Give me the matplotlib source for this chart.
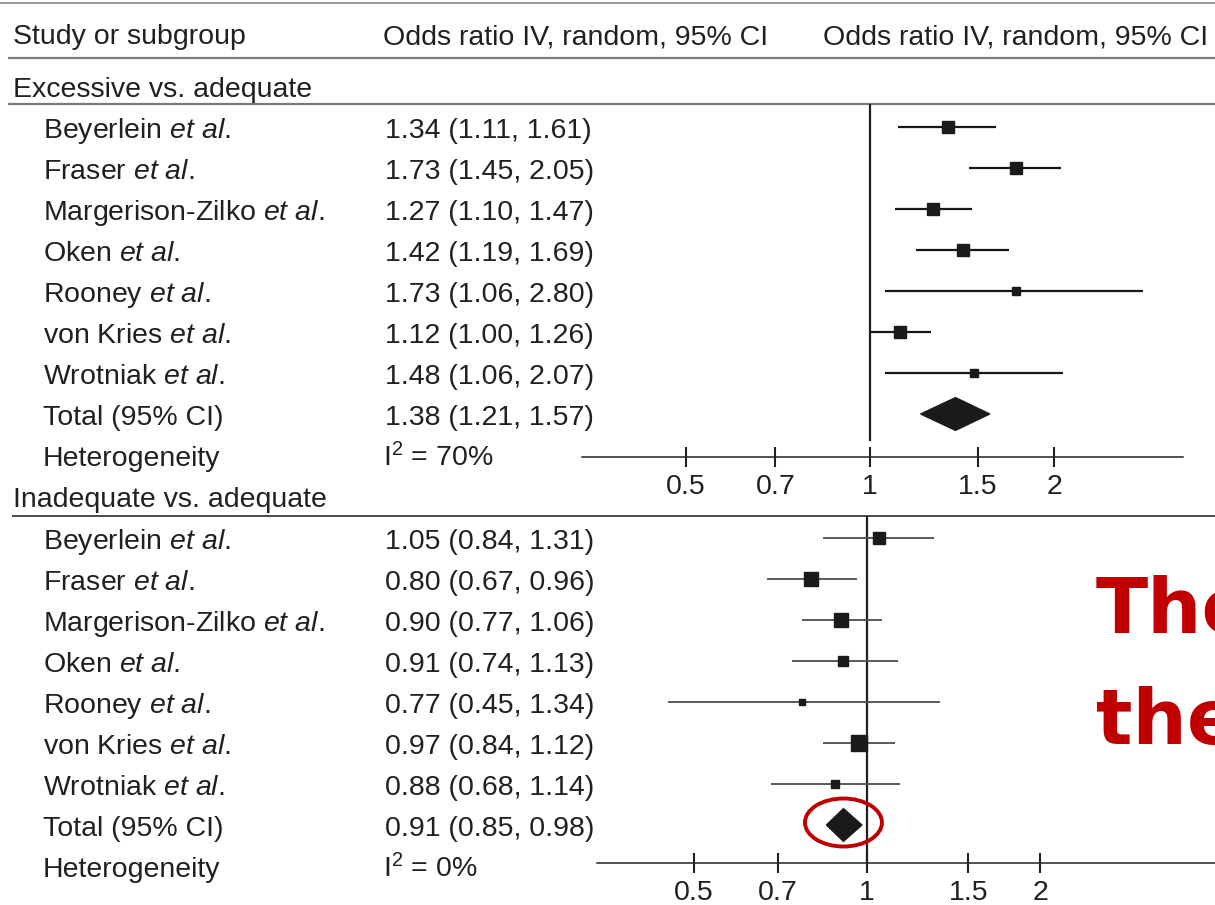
import matplotlib.pyplot as plt
import matplotlib.transforms as transforms
from matplotlib.patches import Ellipse, Polygon
from matplotlib.ticker import NullLocator
import numpy as np

plt.rcParams['font.family'] = ['Liberation Sans', 'DejaVu Sans']
plt.rcParams['mathtext.fontset'] = 'custom'
plt.rcParams['mathtext.rm'] = 'Liberation Sans'
plt.rcParams['mathtext.it'] = 'Liberation Sans:italic'

# ---- data ----
studies = ['Beyerlein', 'Fraser', 'Margerison-Zilko', 'Oken', 'Rooney', 'von Kries', 'Wrotniak']

exc_or = [1.34, 1.73, 1.27, 1.42, 1.73, 1.12, 1.48]
exc_lo = [1.11, 1.45, 1.10, 1.19, 1.06, 1.00, 1.06]
exc_hi = [1.61, 2.05, 1.47, 1.69, 2.80, 1.26, 2.07]
exc_weight = [16.6, 16.6, 18.0, 16.6, 7.7, 16.6, 7.7]   # % weight (square size)
exc_total = [1.38, 1.21, 1.57]
exc_i2 = 70

inad_or = [1.05, 0.80, 0.90, 0.91, 0.77, 0.97, 0.88]
inad_lo = [0.84, 0.67, 0.77, 0.74, 0.45, 0.84, 0.68]
inad_hi = [1.31, 0.96, 1.06, 1.13, 1.34, 1.12, 1.14]
inad_weight = [13.5, 20.3, 18.8, 12.3, 4.0, 25.0, 6.2]
inad_total = [0.91, 0.85, 0.98]
inad_i2 = 0

tick_vals = [0.5, 0.7, 1, 1.5, 2]
tick_labels = ['0.5', '0.7', '1', '1.5', '2']

# ---- layout (pixels) ----
W, H = 1215, 905
ROW = 41
FS = 20.5
INK = '#231f20'
RED = '#c00000'

fig = plt.figure(figsize=(W / 100, H / 100), dpi=100)
bg = fig.add_axes([0, 0, 1, 1])
bg.set_xlim(0, W)
bg.set_ylim(H, 0)
bg.axis('off')

# header and separators
bg.hlines(3, 0, W, color='#9a9a9a', lw=1.4)
bg.text(13, 44, 'Study or subgroup', fontsize=FS, color=INK, va='baseline')
bg.text(383, 44, 'Odds ratio IV, random, 95% CI', fontsize=FS, color=INK, va='baseline')
bg.text(823, 44, 'Odds ratio IV, random, 95% CI', fontsize=FS, color=INK, va='baseline')
bg.hlines([58, 104], 8, W, color='#7a7a7a', lw=1.6)
bg.hlines(516, 12, W, color='#4a4a4a', lw=1.4)


def table_rows(row0, ors, los, his, total, i2):
    for i, name in enumerate(studies):
        y = row0 + i * ROW + 11
        bg.text(43, y, name + r' $\mathit{et\ al}$.', fontsize=FS, color=INK, va='baseline')
        bg.text(385, y, f'{ors[i]:.2f} ({los[i]:.2f}, {his[i]:.2f})',
                fontsize=FS, color=INK, va='baseline')
    y = row0 + len(studies) * ROW + 11
    bg.text(43, y, 'Total (95% CI)', fontsize=FS, color=INK, va='baseline')
    bg.text(385, y, f'{total[0]:.2f} ({total[1]:.2f}, {total[2]:.2f})',
            fontsize=FS, color=INK, va='baseline')
    y += ROW
    bg.text(43, y, 'Heterogeneity', fontsize=FS, color=INK, va='baseline')
    bg.text(383, y, r'I$^{2}$ = ' + f'{i2}%', fontsize=FS, color=INK, va='baseline')


def forest(left, right, top, bottom, center, scale, row0, ors, los, his, weights,
           total, ci_color, ci_lw, vline_from):
    ax = fig.add_axes([left / W, 1 - bottom / H, (right - left) / W, (bottom - top) / H])
    ax.patch.set_alpha(0)
    ax.set_xscale('log')
    ax.set_xlim(np.exp((left - center) / scale), np.exp((right - center) / scale))
    ax.set_ylim((bottom - row0) / ROW, (top - row0) / ROW)

    rows = np.arange(len(ors))
    ax.hlines(rows, los, his, color=ci_color, lw=ci_lw, zorder=2)
    for i in rows:
        ax.plot(ors[i], i, marker='s', ms=3.05 * np.sqrt(weights[i]) * 0.72,
                color='#1a1a1a', mec='#1a1a1a', zorder=3)
    yt = len(ors)
    ax.add_patch(Polygon([(total[1], yt), (total[0], yt - 0.4), (total[2], yt),
                          (total[0], yt + 0.4)], closed=True, color='#1a1a1a', zorder=3))

    ax.axvline(1, ymin=vline_from, ymax=1, color=INK, lw=1.6, zorder=1)

    for s in ['top', 'left', 'right']:
        ax.spines[s].set_visible(False)
    ax.spines['bottom'].set_color(INK)
    ax.spines['bottom'].set_linewidth(1.1)
    ax.set_yticks([])
    ax.set_xticks(tick_vals, tick_labels)
    ax.xaxis.set_minor_locator(NullLocator())
    ax.tick_params(axis='x', direction='inout', length=15, width=1.5, pad=5,
                   labelsize=FS, colors=INK)
    return ax


table_rows(127, exc_or, exc_lo, exc_hi, exc_total, exc_i2)
bg.text(13, 97, 'Excessive vs. adequate', fontsize=FS, color=INK, va='baseline')
ax1 = forest(582, 1183, 104, 457, 870, 265.5, 127, exc_or, exc_lo, exc_hi, exc_weight,
             exc_total, '#161616', 1.6, (457 - 440) / (457 - 104))

table_rows(538, inad_or, inad_lo, inad_hi, inad_total, inad_i2)
bg.text(13, 507, 'Inadequate vs. adequate', fontsize=FS, color=INK, va='baseline')
ax2 = forest(597, 1215, 516, 863, 867, 249.6, 538, inad_or, inad_lo, inad_hi, inad_weight,
             inad_total, '#4d4d4d', 1.3, 0)

# red highlight around the pooled estimate of the second subgroup
trans = fig.dpi_scale_trans + transforms.ScaledTranslation(inad_total[0], len(inad_or), ax2.transData)
ax2.add_patch(Ellipse((0, 0.025), 0.77, 0.48, transform=trans, fill=False,
                      ec=RED, lw=2.8, clip_on=False, zorder=4))

# overlaid slide text, cut off at the right edge as in the source
bg.text(1096, 633, 'The', fontfamily='DejaVu Sans', fontweight='bold', fontsize=55,
        color=RED, va='baseline')
bg.text(1096, 744, 'the', fontfamily='DejaVu Sans', fontweight='bold', fontsize=55,
        color=RED, va='baseline')

fig.savefig('out.png', dpi=100)
